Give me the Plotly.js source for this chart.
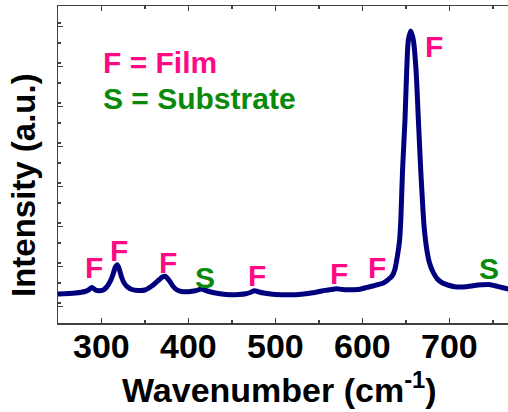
<!DOCTYPE html>
<html>
<head>
<meta charset="utf-8">
<script src="https://cdn.plot.ly/plotly-3.0.1.min.js"></script>
<style>html,body{margin:0;padding:0;background:#fff;}#chart{width:508px;height:412px;}</style>
</head>
<body>
<div id="chart"></div>
<script>
// Raman spectrum
const wavenumber = [250, 270, 281, 285, 289, 293, 297, 302, 306, 310, 313, 316, 318, 320, 323, 326, 330, 335, 342, 350,
  357, 362, 366, 370, 373, 376, 379, 382, 386, 392, 400, 408, 415, 420, 428, 438, 448, 458, 466, 471,
  476, 481, 488, 500, 515, 530, 545, 557, 564, 570, 577, 586, 597, 605, 612, 618, 624, 629, 634, 637,
  639.3, 641, 642.5, 644, 646, 648.8, 650.8, 652.7, 655.4, 658.4, 661.5, 664.2, 666.9, 669, 670.7, 672.5, 674.5, 677, 681, 686,
  692, 698, 706, 716, 727, 737, 745, 752, 760, 768];
const intensity = [29, 30, 31.5, 33, 35.6, 33, 32.3, 33, 36, 41.6, 48, 56, 58.3, 55, 46, 40, 36, 33.5, 32.6, 33,
  36.5, 40, 43, 46, 46.8, 44.5, 41, 37, 33.5, 31.5, 31.3, 32.2, 34, 32.5, 30.5, 29, 28.3, 28.6, 29.3, 30.5,
  32.3, 31, 29.8, 28.6, 28.2, 28.8, 30.5, 32.6, 33.5, 34.3, 33.5, 33.3, 33.8, 35.6, 37, 38.5, 40, 43, 47, 53,
  63, 72, 82, 103, 153, 203, 253, 283, 292, 283, 253, 203, 153, 120, 97, 82, 70, 60, 51, 44,
  40, 38, 36.3, 36, 37.3, 38.2, 38.5, 37.2, 35.5, 34];

// x tick labels
const xTickVals = [300, 400, 500, 600, 700];
const xTickText = ["300", "400", "500", "600", "700"];

// Peak labels
const peakLabels = ["F", "F", "F", "S", "F", "F", "F", "F", "S"];
const peakX = [291.4, 320.1, 375.9, 419.5, 478.2, 573, 616.7, 682.2, 744.8];
const peakY = [55.3, 72.3, 60.3, 45.8, 47.3, 49.3, 55.8, 276.3, 54.3];

const legendTexts = ["F = Film", "S = Substrate"];
const legendX = [299.4, 299.4];
const legendY = [260.3, 224.3];

const xTitle = 'Wavenumber (cm<sup>-1</sup>)';
const yTitle = 'Intensity (a.u.)';

const PINK = '#ff0a84';
const GREEN = '#0a8a0a';
const FONT = 'Liberation Sans';

const annotations = [];
peakLabels.forEach((t, i) => {
  annotations.push({x: peakX[i], y: peakY[i], xref: 'x', yref: 'y', text: '<b>' + t + '</b>', showarrow: false,
    xanchor: 'center', yanchor: 'middle',
    font: {family: FONT, size: 30, color: t === 'F' ? PINK : GREEN}});
});
legendTexts.forEach((t, i) => {
  annotations.push({x: legendX[i], y: legendY[i], xref: 'x', yref: 'y', text: '<b>' + t + '</b>', showarrow: false,
    xanchor: 'left', yanchor: 'middle',
    font: {family: FONT, size: 30, color: i === 0 ? PINK : GREEN}});
});
xTickVals.forEach((v, i) => {
  annotations.push({x: v, y: -0.0715, xref: 'x', yref: 'paper', text: '<b>' + xTickText[i] + '</b>', showarrow: false,
    xanchor: 'center', yanchor: 'middle', font: {family: FONT, size: 34, color: '#000'}});
});
annotations.push({x: 0.493, y: -0.204, xref: 'paper', yref: 'paper', text: '<b>' + xTitle + '</b>', showarrow: false,
  xanchor: 'center', yanchor: 'middle', font: {family: FONT, size: 34, color: '#000'}});
annotations.push({x: -0.075, y: 0.436, xref: 'paper', yref: 'paper', text: '<b>' + yTitle + '</b>', showarrow: false,
  xanchor: 'center', yanchor: 'middle', textangle: -90, font: {family: FONT, size: 33, color: '#000'}});

const trace = {x: wavenumber, y: intensity, type: 'scatter', mode: 'lines',
  line: {color: '#00007f', width: 5, shape: 'spline', smoothing: 0.8}, hoverinfo: 'skip'};

const layout = {
  width: 508, height: 412,
  margin: {l: 58, r: 0, t: 6, b: 89},
  paper_bgcolor: '#fff', plot_bgcolor: '#fff',
  showlegend: false,
  font: {family: FONT, color: '#000'},
  xaxis: {range: [250, 767.2], tickmode: 'array', tickvals: xTickVals, ticks: 'inside', ticklen: 5, tickwidth: 1.5,
    tickcolor: '#404040', showline: true, linecolor: '#404040', linewidth: 1.5, mirror: 'ticks',
    showgrid: false, zeroline: false, showticklabels: false,
    minor: {tick0: 250, dtick: 50, ticks: 'inside', ticklen: 3, tickcolor: '#404040', tickwidth: 1.2}},
  yaxis: {range: [0, 317], tick0: 16.6, dtick: 40, ticks: 'inside', ticklen: 5, tickwidth: 1.5,
    tickcolor: '#404040', showline: true, linecolor: '#404040', linewidth: 1.5, mirror: false,
    showgrid: false, zeroline: false, showticklabels: false,
    minor: {dtick: 20, ticks: 'inside', ticklen: 3, tickcolor: '#404040', tickwidth: 1.2}},
  annotations: annotations
};

Plotly.newPlot('chart', [trace], layout, {staticPlot: true, displayModeBar: false});
</script>
</body>
</html>
